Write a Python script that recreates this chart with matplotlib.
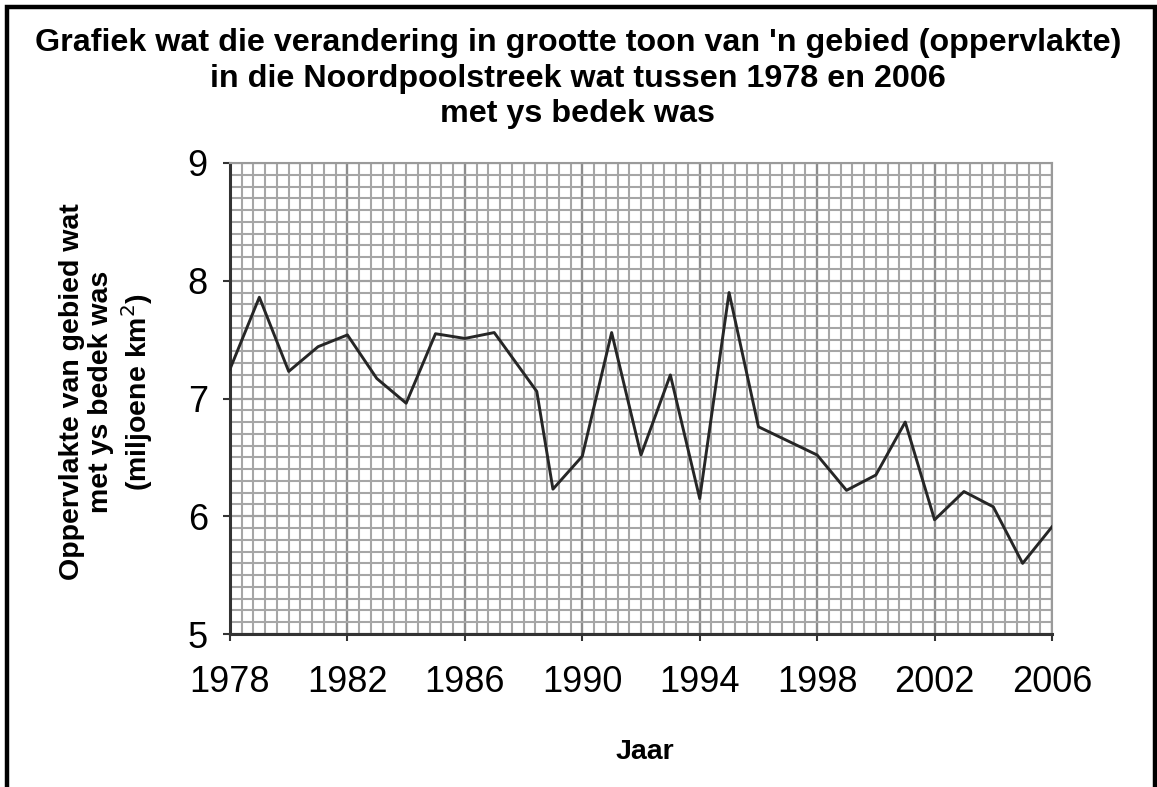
import matplotlib
matplotlib.use("Agg")
import matplotlib.pyplot as plt
from matplotlib.patches import Rectangle
from matplotlib.ticker import MultipleLocator

plt.rcParams['font.family'] = ['Liberation Sans', 'DejaVu Sans']

# Data
years = [1978, 1979, 1980, 1981, 1982, 1983, 1984, 1985, 1986, 1987, 1988.45,
         1989, 1990, 1991, 1992, 1993, 1994, 1995, 1996, 1998, 1999, 2000,
         2001, 2002, 2003, 2004, 2005, 2006]
extent = [7.25, 7.86, 7.23, 7.44, 7.54, 7.17, 6.96, 7.55, 7.51, 7.56, 7.06,
          6.23, 6.51, 7.56, 6.52, 7.20, 6.15, 7.90, 6.76, 6.52, 6.22, 6.35,
          6.80, 5.97, 6.21, 6.08, 5.60, 5.91]
x_ticks = [1978, 1982, 1986, 1990, 1994, 1998, 2002, 2006]
y_ticks = [5, 6, 7, 8, 9]

title = ("Grafiek wat die verandering in grootte toon van 'n gebied (oppervlakte)\n"
         "in die Noordpoolstreek wat tussen 1978 en 2006\n"
         "met ys bedek was")
ylabel = "Oppervlakte van gebied wat\nmet ys bedek was\n(miljoene km$^2$)"
xlabel = "Jaar"

W, H = 1157, 787
fig = plt.figure(figsize=(W / 100, H / 100), dpi=100)
ax = fig.add_axes([230 / W, 1 - 634 / H, (1052 - 230) / W, (634 - 163) / H])

ax.set_xlim(1978, 2006)
ax.set_ylim(5, 9)
ax.xaxis.set_minor_locator(MultipleLocator(0.4))
ax.yaxis.set_minor_locator(MultipleLocator(0.1))
ax.set_xticks(x_ticks)
ax.set_yticks(y_ticks)

ax.grid(which='minor', color='#a6a6a6', linewidth=1.5)
ax.grid(which='major', axis='x', color='#8c8c8c', linewidth=1.7)
ax.grid(which='major', axis='y', color='#a0a0a0', linewidth=1.6)
ax.set_axisbelow(True)

ax.plot(years, extent, color='#262626', linewidth=2.1, zorder=3)

for s in ['top', 'right']:
    ax.spines[s].set_color('#9a9a9a')
    ax.spines[s].set_linewidth(1.5)
for s in ['left', 'bottom']:
    ax.spines[s].set_color('#333333')
    ax.spines[s].set_linewidth(2.2)

ax.tick_params(which='major', direction='out', length=5, width=1.5,
               color='#333333', labelsize=26)
ax.tick_params(which='minor', length=0)
ax.tick_params(axis='x', pad=17)
ax.tick_params(axis='y', pad=11)

ax.set_xlabel(xlabel, fontsize=20.5, fontweight='bold', va='center')
ax.xaxis.set_label_coords((645 - 230) / 822, (634 - 752) / 471)
ax.set_ylabel(ylabel, fontsize=20.5, fontweight='bold', va='center',
              linespacing=1.17)
ax.yaxis.set_label_coords((107 - 230) / 822, (634 - 392) / 471)

fig.text(578 / W, 1 - 28.5 / H, title, ha='center', va='top', fontsize=23.2,
         fontweight='bold', linespacing=1.22)

# outer frame
fig.add_artist(Rectangle((6.5 / W, -0.1), (1155 - 6.5) / W, 1.1 - 7 / H,
                         transform=fig.transFigure, fill=False,
                         edgecolor='black', linewidth=3.2, clip_on=False))

fig.savefig("out.png", dpi=100)
